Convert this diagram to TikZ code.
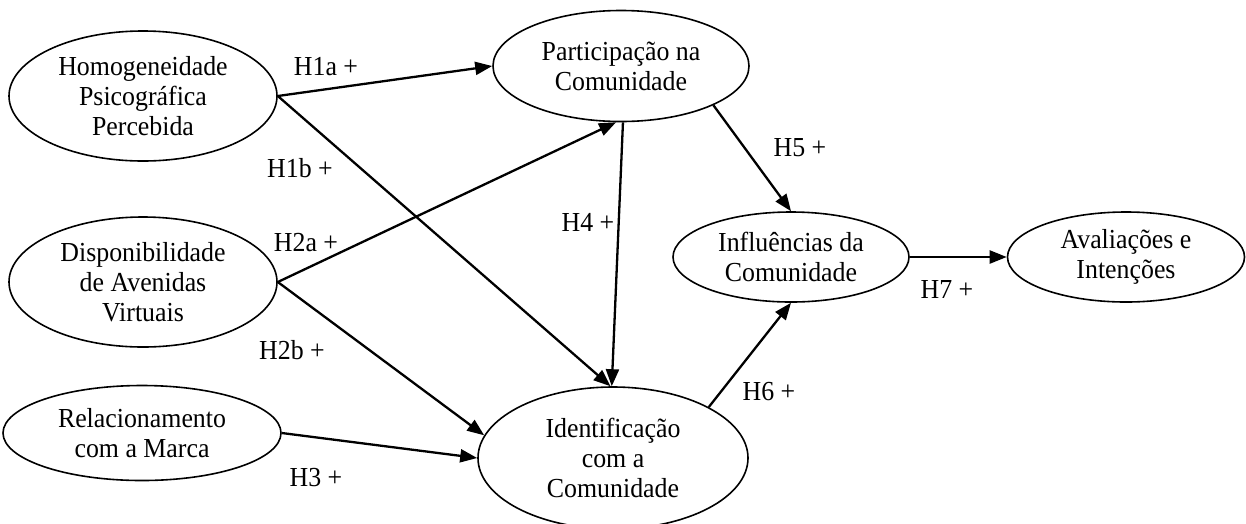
\documentclass[tikz,border=0pt]{standalone}
\usepackage{fontspec}
\setmainfont{Liberation Serif}[FakeStretch=0.94]
\usetikzlibrary{shapes.geometric,arrows.meta}
\begin{document}
\begin{tikzpicture}[x=1pt,y=-1pt,
  construct/.style={draw, line width=1.6pt, ellipse, inner sep=0pt, align=center,
    font=\fontsize{27.5}{30}\selectfont},
  hyp/.style={font=\fontsize{27.5}{30}\selectfont, inner sep=0pt},
  path/.style={line width=2.3pt, -{Triangle[length=17pt,width=13pt]}}]
\useasboundingbox (0,0) rectangle (1246,523);
\node[construct, minimum width=268pt, minimum height=130pt] (homog) at (143,96) {Homogeneidade\\Psicográfica\\Percebida};
\node[construct, minimum width=268pt, minimum height=130pt] (disp) at (143,282) {Disponibilidade\\de Avenidas\\Virtuais};
\node[construct, minimum width=278pt, minimum height=95pt] (rel) at (142,433) {Relacionamento\\com a Marca};
\node[construct, minimum width=256pt, minimum height=111pt] (part) at (621,66) {Participação na\\Comunidade};
\node[construct, minimum width=270pt, minimum height=142pt] (ident) at (613,458) {Identificação\\com a\\Comunidade};
\node[construct, minimum width=236pt, minimum height=90pt] (infl) at (791,257) {Influências da\\Comunidade};
\node[construct, minimum width=237pt, minimum height=90pt] (aval) at (1126,257) {Avaliações e\\Intenções};

\draw[path] (homog.east) -- (part.west);
\draw[path] (homog.east) -- (ident.92);
\draw[path] (disp.east) -- (part.265);
\draw[path] (disp.east) -- (ident.170);
\draw[path] (rel.east) -- (ident.west);
\draw[path] (part.-88) -- (ident.91);
\draw[path] (part.-23) -- (infl.north);
\draw[path] (ident.28) -- (infl.south);
\draw[path] (infl.east) -- (aval.west);

\node[hyp] (h1a) at (326,67) {H1a +};
\node[hyp] (h1b) at (300,168) {H1b +};
\node[hyp] (h2a) at (306,243) {H2a +};
\node[hyp] (h2b) at (292,350) {H2b +};
\node[hyp] (h3) at (316,478) {H3 +};
\node[hyp] (h4) at (588,222) {H4 +};
\node[hyp] (h5) at (800,148) {H5 +};
\node[hyp] (h6) at (769,392) {H6 +};
\node[hyp] (h7) at (947,289) {H7 +};
\end{tikzpicture}
\end{document}
